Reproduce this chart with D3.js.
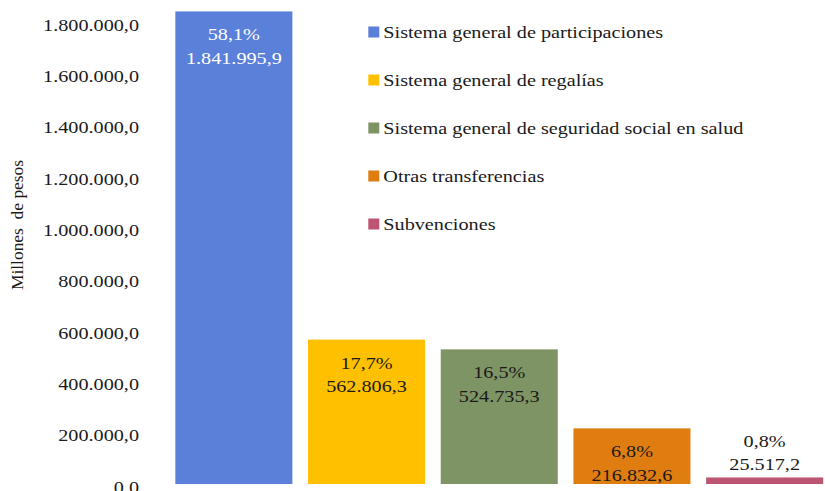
<!DOCTYPE html>
<html>
<head>
<meta charset="utf-8">
<script src="https://cdn.jsdelivr.net/npm/d3@7"></script>
<style>
  html, body { margin: 0; padding: 0; background: #fff; }
  svg { display: block; }
  text { font-family: "Liberation Serif", "Times New Roman", serif; white-space: pre; }
</style>
</head>
<body>
<svg id="chart" width="825" height="491"></svg>
<script>
// ---- data ----
const categories = [
  "Sistema general de participaciones",
  "Sistema general de regalías",
  "Sistema general de seguridad social en salud",
  "Otras transferencias",
  "Subvenciones"
];
const values = [1841995.9, 562806.3, 524735.3, 216832.6, 25517.2];
const percentLabels = ["58,1%", "17,7%", "16,5%", "6,8%", "0,8%"];
const valueLabels = ["1.841.995,9", "562.806,3", "524.735,3", "216.832,6", "25.517,2"];
const colors = ["#5A80DA", "#FFC000", "#7E9464", "#E07D10", "#BC5472"];
const labelColors = ["#ffffff", "#1a1a1a", "#1a1a1a", "#1a1a1a", "#1a1a1a"];
const tickValues = [0, 200000, 400000, 600000, 800000, 1000000, 1200000, 1400000, 1600000, 1800000];
const tickLabels = ["0.0", "200.000,0", "400.000,0", "600.000,0", "800.000,0", "1.000.000,0",
                    "1.200.000,0", "1.400.000,0", "1.600.000,0", "1.800.000,0"];
const yTitle = "Millones  de pesos";

// ---- layout ----
const svg = d3.select("#chart");
const FS = 17.5, SX = 1.155;
const textColor = "#1a1a1a";

const y = d3.scaleLinear().domain([0, 1800000]).range([484, 22.2]);
const x = d3.scaleBand().domain(categories)
  .range([167.5, 831]).paddingInner(0.118).paddingOuter(0.059);

// y axis tick labels (no axis line)
const yAxis = d3.axisLeft(y).tickValues(tickValues)
  .tickFormat((d, i) => tickLabels[i]).tickSize(0).tickPadding(0);
const gAxis = svg.append("g").attr("transform", "translate(139,0)").call(yAxis);
gAxis.select(".domain").remove();
gAxis.selectAll(".tick").each(function(d) {
  const t = d3.select(this).select("text");
  t.attr("x", null).attr("dy", null)
    .attr("y", 0)
    .attr("dominant-baseline", "central")
    .attr("text-anchor", "end")
    .attr("transform", `translate(0,2) scale(${SX},1)`)
    .style("font-family", '"Liberation Serif", "Times New Roman", serif')
    .style("font-size", FS + "px")
    .attr("fill", textColor);
});

// y axis title
svg.append("text")
  .attr("transform", `translate(18,225) rotate(-90) scale(1.09,1)`)
  .attr("text-anchor", "middle")
  .attr("dominant-baseline", "central")
  .style("font-size", "16px")
  .attr("fill", textColor)
  .text(yTitle);

// bars
svg.append("g").selectAll("rect")
  .data(values)
  .join("rect")
  .attr("x", (d, i) => x(categories[i]))
  .attr("width", x.bandwidth())
  .attr("y", d => y(d))
  .attr("height", d => y(0) - y(d))
  .attr("fill", (d, i) => colors[i]);

// data labels
const lineGap = 23.3;
const gLab = svg.append("g");
values.forEach((v, i) => {
  const cx = x(categories[i]) + x.bandwidth() / 2;
  const h = y(0) - y(v);
  let y1;
  if (h > 50) y1 = y(v) + 23; else y1 = y(v) - 13.5 - lineGap;
  [percentLabels[i], valueLabels[i]].forEach((s, k) => {
    gLab.append("text")
      .attr("transform", `translate(${cx},${y1 + k * lineGap}) scale(${SX},1)`)
      .attr("text-anchor", "middle")
      .attr("dominant-baseline", "central")
      .style("font-size", FS + "px")
      .attr("fill", labelColors[i])
      .text(s);
  });
});

// legend
const legY = d3.scalePoint().domain(categories).range([32, 224]);
const gLeg = svg.append("g");
categories.forEach((c, i) => {
  const cy = legY(c);
  gLeg.append("rect")
    .attr("x", 368.3).attr("y", cy - 5.5)
    .attr("width", 11).attr("height", 11)
    .attr("fill", colors[i]);
  gLeg.append("text")
    .attr("transform", `translate(383.3,${cy}) scale(${SX},1)`)
    .attr("dominant-baseline", "central")
    .style("font-size", FS + "px")
    .attr("fill", textColor)
    .text(c);
});
</script>
</body>
</html>
